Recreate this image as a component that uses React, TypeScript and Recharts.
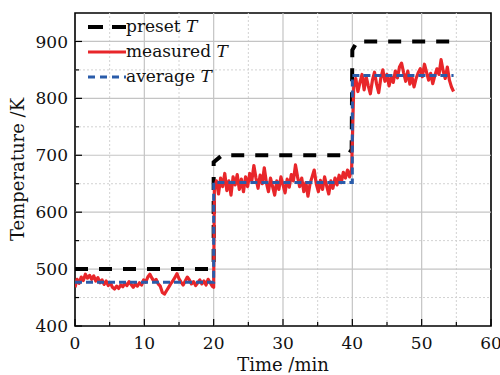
import React from 'react';
import { LineChart, Line, XAxis, YAxis, ReferenceLine, ReferenceArea, Legend } from 'recharts';

const STEP = 0.3;
const seg1Start = 0;
const seg2Start = 20.1;
const seg3Start = 40.2;

const measuredSeg1 = [
  468, 482, 475, 486, 480, 491, 484, 489, 482, 488,
  479, 485, 476, 481, 473, 479, 471, 476, 468, 465,
  470, 466, 472, 469, 475, 471, 478, 473, 468, 474,
  470, 476, 472, 481, 477, 486, 491, 484, 478, 482,
  474, 470, 459, 456, 462, 468, 474, 479, 485, 492,
  483, 477, 472, 479, 486, 481, 474, 478, 471, 476,
  481, 474, 479, 472, 482, 476, 470,
];

const measuredSeg2 = [
  640, 655, 632, 660, 645, 668, 638, 655, 630, 662,
  648, 666, 640, 658, 636, 662, 645, 668, 655, 682,
  660, 642, 665, 650, 678, 652, 636, 660, 645, 630,
  655, 640, 662, 648, 634, 658, 644, 666, 655, 683,
  662, 645, 660, 636, 652, 628, 650, 662, 674, 650,
  636, 656, 640, 662, 646, 632, 655, 642, 660, 648,
  665, 652, 670, 660, 674, 662, 676,
];

const measuredSeg3 = [
  820, 835, 812, 828, 842, 815, 838, 822, 808, 832,
  846, 825, 810, 835, 850, 830, 842, 822, 838, 828,
  848, 836, 855, 862, 845, 830, 848, 825, 838, 820,
  835, 845, 852, 838, 860, 846, 832, 844, 826, 840,
  852, 842, 868, 848, 835, 855, 832, 820, 812,
];

const presetTimes = [0, 19.7, 20.0, 20.0, 21.2, 39.4, 39.9, 40.0, 40.7, 54.3];
const presetValues = [500, 500, 509, 688, 700, 700, 710, 885, 900, 900];

const averageTimes = [0, 20, 20, 40, 40, 54.6];
const averageValues = [477, 477, 652, 652, 840, 840];

const xTicks = [0, 5, 10, 15, 20, 25, 30, 35, 40, 45, 50, 55, 60];
const yTicks = [400, 450, 500, 550, 600, 650, 700, 750, 800, 850, 900];
const xMajorGrid = [10, 20, 30, 40, 50];
const xMinorGrid = [5, 15, 25, 35, 45, 55];
const yMajorGrid = [500, 600, 700, 800, 900];
const yMinorGrid = [450, 550, 650, 750, 850];

const seriesNames = ['preset', 'measured', 'average'];

const segToPoints = (vals: number[], start: number) =>
  vals.map((v, i) => ({ t: +(start + i * STEP).toFixed(2), v }));

const measuredData = [
  ...segToPoints(measuredSeg1, seg1Start),
  { t: 20.0, v: 468 },
  ...segToPoints(measuredSeg2, seg2Start),
  ...segToPoints(measuredSeg3, seg3Start),
];
const presetData = presetTimes.map((t, i) => ({ t, v: presetValues[i] }));
const averageData = averageTimes.map((t, i) => ({ t, v: averageValues[i] }));

const FONT = '"DejaVu Serif", serif';
const X_MARGIN = 11;
const Y_MARGIN = 7;

const XTick = (props: any) => {
  const { x, y, payload } = props;
  const major = payload.value % 10 === 0;
  const axisY = y - X_MARGIN;
  return (
    <g>
      <line x1={x} x2={x} y1={axisY} y2={axisY - (major ? 7 : 4)} stroke="#000" strokeWidth={1.2} />
      {major && (
        <text x={x} y={y} dy="0.71em" textAnchor="middle" fontFamily={FONT} fontSize={17} fill="#111">
          {payload.value}
        </text>
      )}
    </g>
  );
};

const YTick = (props: any) => {
  const { x, y, payload } = props;
  const major = payload.value % 100 === 0;
  const axisX = x + Y_MARGIN;
  return (
    <g>
      <line x1={axisX} x2={axisX + (major ? 7 : 4)} y1={y} y2={y} stroke="#000" strokeWidth={1.2} />
      {major && (
        <text x={x} y={y} dy="0.36em" textAnchor="end" fontFamily={FONT} fontSize={17} fill="#111">
          {payload.value}
        </text>
      )}
    </g>
  );
};

const legendStyles = [
  { color: '#000', dash: '15 9', width: 4 },
  { color: '#e8262a', dash: undefined, width: 3 },
  { color: '#2a5caa', dash: '7 5', width: 3 },
];

const renderLegend = () => (
  <div style={{ fontFamily: FONT, fontSize: 17, color: '#111' }}>
    {seriesNames.map((name, i) => (
      <div key={name} style={{ display: 'flex', alignItems: 'center', height: 25 }}>
        <svg width={38} height={10} style={{ display: 'block' }}>
          <line
            x1={0}
            x2={38}
            y1={5}
            y2={5}
            stroke={legendStyles[i].color}
            strokeWidth={legendStyles[i].width}
            strokeDasharray={legendStyles[i].dash}
          />
        </svg>
        <span style={{ whiteSpace: 'nowrap', lineHeight: '25px' }}>
          {name} <i>T</i>
        </span>
      </div>
    ))}
  </div>
);

const YLabel = (props: any) => {
  const vb = props.viewBox || { x: 0, y: 13, width: 75, height: 313 };
  const cx = vb.x + 17;
  const cy = vb.y + vb.height / 2;
  return (
    <text
      x={cx}
      y={cy}
      transform={`rotate(-90 ${cx} ${cy})`}
      textAnchor="middle"
      dominantBaseline="central"
      fontFamily={FONT}
      fontSize={18}
      fill="#111"
    >
      Temperature /K
    </text>
  );
};

const XLabel = (props: any) => {
  const vb = props.viewBox || { x: 75, y: 326, width: 416, height: 49 };
  const cx = vb.x + vb.width / 2;
  const cy = vb.y + 38;
  return (
    <text x={cx} y={cy} textAnchor="middle" dominantBaseline="central" fontFamily={FONT} fontSize={18} fill="#111">
      Time /min
    </text>
  );
};

export default function App() {
  return (
    <div style={{ position: 'absolute', left: 0, top: 0, background: '#fff' }}>
      <LineChart width={500} height={375} margin={{ top: 13, right: 9, bottom: 0, left: 0 }}>
        <XAxis
          type="number"
          dataKey="t"
          domain={[0, 60]}
          ticks={xTicks}
          interval={0}
          tickSize={0}
          tickMargin={X_MARGIN}
          axisLine={false}
          tickLine={false}
          tick={<XTick />}
          height={49}
          allowDataOverflow
          label={<XLabel />}
        />
        <YAxis
          type="number"
          dataKey="v"
          domain={[400, 950]}
          ticks={yTicks}
          interval={0}
          tickSize={0}
          tickMargin={Y_MARGIN}
          axisLine={false}
          tickLine={false}
          tick={<YTick />}
          width={75}
          allowDataOverflow
          label={<YLabel />}
        />
        {xMinorGrid.map((v) => (
          <ReferenceLine key={'xm' + v} x={v} stroke="#d2d2d2" strokeDasharray="2 2" strokeWidth={1} />
        ))}
        {yMinorGrid.map((v) => (
          <ReferenceLine key={'ym' + v} y={v} stroke="#d2d2d2" strokeDasharray="2 2" strokeWidth={1} />
        ))}
        {xMajorGrid.map((v) => (
          <ReferenceLine key={'xM' + v} x={v} stroke="#c4c4c4" strokeWidth={1.2} />
        ))}
        {yMajorGrid.map((v) => (
          <ReferenceLine key={'yM' + v} y={v} stroke="#c4c4c4" strokeWidth={1.2} />
        ))}
        <Legend
          layout="vertical"
          align="center"
          verticalAlign="middle"
          content={renderLegend}
          wrapperStyle={{ top: 14, left: 88, width: 'auto', height: 'auto' }}
        />
        <Line
          name="preset"
          data={presetData}
          dataKey="v"
          type="linear"
          stroke="#000"
          strokeWidth={4}
          strokeDasharray="13 11"
          dot={false}
          isAnimationActive={false}
        />
        <Line
          name="measured"
          data={measuredData}
          dataKey="v"
          type="linear"
          stroke="#e8262a"
          strokeWidth={3.2}
          strokeLinejoin="round"
          dot={false}
          isAnimationActive={false}
        />
        <Line
          name="average"
          data={averageData}
          dataKey="v"
          type="linear"
          stroke="#2a5caa"
          strokeWidth={3}
          strokeDasharray="7 4"
          dot={false}
          isAnimationActive={false}
        />
        <ReferenceArea x1={0} x2={60} y1={400} y2={950} fill="none" stroke="#000" strokeWidth={1.6} />
      </LineChart>
    </div>
  );
}
